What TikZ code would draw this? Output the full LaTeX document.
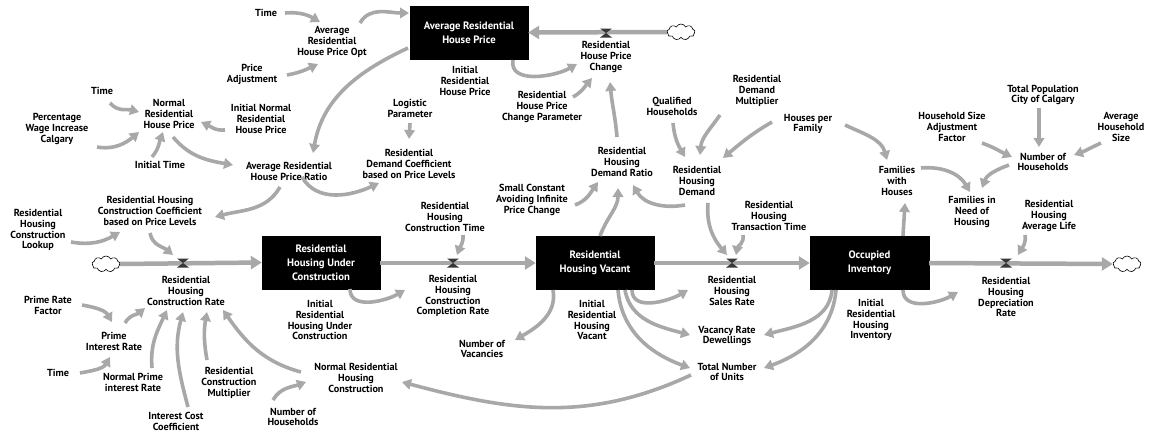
\documentclass[tikz,border=0pt]{standalone}
\usepackage{fontspec}
\setmainfont{PT Sans}
\usetikzlibrary{arrows.meta,shapes.symbols}
\definecolor{linkgray}{RGB}{168,168,168}
\definecolor{valvegray}{RGB}{55,55,55}
\tikzset{
  lbl/.style={align=center,inner sep=1pt,font=\fontsize{10.2}{10.9}\selectfont\bfseries},
  stock/.style={rectangle,fill=black,draw=black,minimum width=118pt,minimum height=53pt,
    inner sep=2pt,text=white,align=center,font=\fontsize{10.7}{14}\selectfont\bfseries},
  link/.style={draw=linkgray,line width=3.6pt,-{Triangle[length=9pt,width=10.5pt]}},
  pipe/.style={draw=linkgray,line width=4.5pt,-{Triangle[length=11pt,width=13pt]}},
  sink/.style={cloud,cloud puffs=9,cloud puff arc=130,aspect=1.8,draw=black,fill=white,
    line width=0.6pt,minimum width=28pt,minimum height=16pt,inner sep=0pt},
  valve/.pic={
    \fill[valvegray] (-6,4.5) -- (6,4.5) -- (0,0) -- cycle;
    \fill[valvegray] (-6,-4.5) -- (6,-4.5) -- (0,0) -- cycle;
  }
}
\begin{document}
\begin{tikzpicture}[x=1pt,y=1pt]
\useasboundingbox (0,0) rectangle (1149,-434);

% ---------- stocks ----------
\node[stock] (sP)  at (469,-32.5)   {Average Residential\\House Price};
\node[stock] (sUC) at (321,-262.5)  {Residential\\Housing Under\\Construction};
\node[stock] (sV)  at (595,-262.5)  {Residential\\Housing Vacant};
\node[stock,minimum width=119pt] (sO) at (869.5,-262.5) {Occupied\\Inventory};

% ---------- sources and sinks ----------
\node[sink] (cP) at (681,-32) {};
\node[sink] (cL) at (106,-264) {};
\node[sink] (cR) at (1127,-264) {};

% ---------- flow valves ----------
\coordinate (vP) at (606,-33);
\coordinate (v1) at (183,-263);
\coordinate (v2) at (453,-263);
\coordinate (v3) at (732,-263);
\coordinate (v4) at (1006,-263);

% ---------- pipes ----------
\draw[pipe] (cP.west) -- (sP.east);
\draw[pipe] (cL.east) -- (sUC.west);
\draw[pipe] ([yshift=-0.5pt]sUC.east) -- ([yshift=-0.5pt]sV.west);
\draw[pipe] ([yshift=-0.5pt]sV.east) -- ([yshift=-0.5pt]sO.west);
\draw[pipe] ([yshift=-0.5pt]sO.east) -- (cR.west);
\foreach \v in {vP,v1,v2,v3,v4} \pic at (\v) {valve};

% ---------- auxiliaries ----------
\node[lbl] (tTimeA) at (266,-13) {Time};
\node[lbl] (pOpt) at (332,-42) {Average\\Residential\\House Price Opt};
\node[lbl] (pAdj) at (252,-74) {Price\\Adjustment};
\node[lbl] (tTimeB) at (102,-91) {Time};
\node[lbl] (nrhp) at (169,-114) {Normal\\Residential\\House Price};
\node[lbl] (inrhp) at (261,-119) {Initial Normal\\Residential\\House Price};
\node[lbl] (pwic) at (57,-129) {Percentage\\Wage Increase\\Calgary};
\node[lbl] (itime) at (160,-165) {Initial Time};
\node[lbl] (ratio) at (289,-171) {Average Residential\\House Price Ratio};
\node[lbl] (logi) at (410,-108) {Logistic\\Parameter};
\node[lbl] (rdc) at (409,-164) {Residential\\Demand Coefficient\\based on Price Levels};
\node[lbl] (irhp) at (465,-81) {Initial\\Residential\\House Price};
\node[lbl] (rhpc) at (606,-57) {Residential\\House Price\\Change};
\node[lbl] (rhpcp) at (542,-107) {Residential\\House Price\\Change Parameter};
\node[lbl] (qh) at (672,-106) {Qualified\\Households};
\node[lbl] (rdm) at (757,-91) {Residential\\Demand\\Multiplier};
\node[lbl] (rhdr) at (622,-162) {Residential\\Housing\\Demand Ratio};
\node[lbl] (rhd) at (697,-181) {Residential\\Housing\\Demand};
\node[lbl] (sc) at (532,-200) {Small Constant\\Avoiding Infinite\\Price Change};
\node[lbl] (hpf) at (808,-124) {Houses per\\Family};
\node[lbl] (hsaf) at (952,-127) {Household Size\\Adjustment\\Factor};
\node[lbl] (tpop) at (1043,-95) {Total Population\\City of Calgary};
\node[lbl] (ahs) at (1121,-127) {Average\\Household\\Size};
\node[lbl] (noh) at (1043,-162) {Number of\\Households};
\node[lbl] (fwh) at (897,-181) {Families\\with\\Houses};
\node[lbl] (fnh) at (972,-212) {Families in\\Need of\\Housing};
\node[lbl] (ral) at (1049,-216) {Residential\\Housing\\Average Life};
\node[lbl] (rtt) at (769,-216) {Residential\\Housing\\Transaction Time};
\node[lbl] (rct) at (445,-217) {Residential\\Housing\\Construction Time};
\node[lbl] (rcc) at (150,-211) {Residential Housing\\Construction Coefficient\\based on Price Levels};
\node[lbl] (rcl) at (38,-230) {Residential\\Housing\\Construction\\Lookup};
\node[lbl] (rcr) at (186,-291) {Residential\\Housing\\Construction Rate};
\node[lbl] (prf) at (48,-305) {Prime Rate\\Factor};
\node[lbl] (pir) at (114,-341) {Prime\\Interest Rate};
\node[lbl] (tTimeC) at (58,-373) {Time};
\node[lbl] (npir) at (133,-382) {Normal Prime\\interest Rate};
\node[lbl] (icc) at (176,-421) {Interest Cost\\Coefficient};
\node[lbl] (rcm) at (229,-383) {Residential\\Construction\\Multiplier};
\node[lbl] (nohB) at (293,-417) {Number of\\Households};
\node[lbl] (nrhc) at (356,-378) {Normal Residential\\Housing\\Construction};
\node[lbl] (iuc) at (320,-320) {Initial\\Residential\\Housing Under\\Construction};
\node[lbl] (rccr) at (453,-296) {Residential\\Housing\\Construction\\Completion Rate};
\node[lbl] (iv) at (592,-320) {Initial\\Residential\\Housing\\Vacant};
\node[lbl] (nov) at (482,-349) {Number of\\Vacancies};
\node[lbl] (rsr) at (732,-291) {Residential\\Housing\\Sales Rate};
\node[lbl] (vrd) at (727,-336) {Vacancy Rate\\Dewellings};
\node[lbl] (tnu) at (727,-372) {Total Number\\of Units};
\node[lbl] (iri) at (871,-320) {Initial\\Residential\\Housing\\Inventory};
\node[lbl] (rdr) at (1006,-297) {Residential\\Housing\\Depreciation\\Rate};

% ---------- information links ----------
% house price sector
\draw[link] ([shift={(19,0)}]tTimeA.center) to[out=5,in=150] ([shift={(-12,20)}]pOpt.center);
\draw[link] ([shift={(35,-1)}]pAdj.center) to[out=10,in=205] ([shift={(-14,-22)}]pOpt.center);
\draw[link] ([shift={(28,19)}]pOpt.center) to[out=60,in=180] ([shift={(-60,19.5)}]sP.center);
\draw[link] ([shift={(-61,-15.5)}]sP.center) to[out=205,in=80] ([shift={(24,18)}]ratio.center);
\draw[link] ([shift={(44,-27.5)}]sP.center) to[out=-100,in=210] ([shift={(-29,-7)}]rhpc.center);
\draw[link] ([shift={(31,10)}]rhpcp.center) to[out=30,in=230] ([shift={(-14,-21)}]rhpc.center);
\draw[link] ([shift={(-5,25)}]rhdr.center) to[out=95,in=-85] ([shift={(4,-25)}]rhpc.center);
\draw[link] ([shift={(4,-23)}]nrhp.center) to[out=-50,in=170] ([shift={(-56,6)}]ratio.center);
\draw[link] ([shift={(8,-12)}]tTimeB.center) to[out=-50,in=165] ([shift={(-30,2)}]nrhp.center);
\draw[link] ([shift={(40,-18)}]pwic.center) to[out=-10,in=220] ([shift={(-30,-18)}]nrhp.center);
\draw[link] ([shift={(-8,8)}]itime.center) to[out=50,in=-110] ([shift={(-6,-18)}]nrhp.center);
\draw[link] ([shift={(-36,-11)}]inrhp.center) to[out=185,in=-25] ([shift={(32,-8)}]nrhp.center);
\draw[link] ([shift={(13,-6)}]ratio.center) to[out=-60,in=205] ([shift={(-30,-19)}]rdc.center);
\draw[link] ([shift={(0,-15)}]logi.center) -- ([shift={(0,25)}]rdc.center);
\draw[link] ([shift={(-9,-16)}]ratio.center) to[out=-120,in=15] ([shift={(65,-6)}]rcc.center);

% construction sector
\draw[link] ([shift={(33,-12)}]rcl.center) to[out=-10,in=210] ([shift={(-30,-21)}]rcc.center);
\draw[link] ([shift={(0,-22)}]rcc.center) to[out=-80,in=140] ([shift={(-10,8)}]v1);
\draw[link] ([shift={(34,0)}]prf.center) to[out=-10,in=120] ([shift={(-2,19)}]pir.center);
\draw[link] ([shift={(22,0)}]tTimeC.center) to[out=10,in=240] ([shift={(-4,-16)}]pir.center);
\draw[link] ([shift={(11,18)}]pir.center) to[out=60,in=220] ([shift={(-41,-17)}]rcr.center);
\draw[link] ([shift={(19,14)}]npir.center) to[out=95,in=-115] ([shift={(-19,-19)}]rcr.center);
\draw[link] ([shift={(12,14)}]icc.center) to[out=105,in=-105] ([shift={(-3,-21)}]rcr.center);
\draw[link] ([shift={(-22,23)}]rcm.center) to[out=100,in=-100] ([shift={(21,-21)}]rcr.center);
\draw[link] ([shift={(-55,6)}]nrhc.center) to[out=165,in=-55] ([shift={(37,-19)}]rcr.center);
\draw[link] ([shift={(-20,17)}]nohB.center) to[out=60,in=200] ([shift={(-50,-4)}]nrhc.center);
\draw[link] ([shift={(-36,-3)}]tnu.center) to[out=-155,in=-15] ([shift={(46,-4)}]nrhc.center);
\draw[link] ([shift={(29,-26.5)}]sUC.center) to[out=-90,in=210] ([shift={(-48,6)}]rccr.center);
\draw[link] ([shift={(18,-18)}]rct.center) to[out=-85,in=70] ([shift={(4,8)}]v2);

% vacant housing and demand
\draw[link] ([shift={(-42,-27.5)}]sV.center) to[out=-80,in=30] ([shift={(33,9)}]nov.center);
\draw[link] ([shift={(5,26.5)}]sV.center) to[out=70,in=-90] ([shift={(-4,-26)}]rhdr.center);
\draw[link] ([shift={(43,-5)}]sc.center) to[out=20,in=235] ([shift={(-24,-20)}]rhdr.center);
\draw[link] ([shift={(-12,-24)}]rhd.center) to[out=190,in=-60] ([shift={(11,-23)}]rhdr.center);
\draw[link] ([shift={(1,-17)}]qh.center) to[out=-85,in=120] ([shift={(-12,24)}]rhd.center);
\draw[link] ([shift={(-37,-24)}]rdm.center) to[out=235,in=85] ([shift={(3,26)}]rhd.center);
\draw[link] ([shift={(-36,2)}]hpf.center) to[out=210,in=40] ([shift={(26,23)}]rhd.center);
\draw[link] ([shift={(37,-1)}]hpf.center) to[out=-25,in=105] ([shift={(-10,21)}]fwh.center);
\draw[link] ([shift={(11,-22)}]rhd.center) to[out=-95,in=130] ([shift={(-5,8)}]v3);
\draw[link] ([shift={(-26,-19)}]rtt.center) to[out=-80,in=80] ([shift={(4,8)}]v3);
\draw[link] ([shift={(37,-27.5)}]sV.center) to[out=-90,in=210] ([shift={(-44,1)}]rsr.center);
\draw[link] ([shift={(30,-27.5)}]sV.center) to[out=-80,in=165] ([shift={(-37,1)}]vrd.center);
\draw[link] ([shift={(23,-27.5)}]sV.center) to[out=-85,in=160] ([shift={(-37,4)}]tnu.center);

% occupied inventory and households
\draw[link] ([shift={(-37.5,-27.5)}]sO.center) to[out=-95,in=15] ([shift={(37,1)}]vrd.center);
\draw[link] ([shift={(-33.5,-27.5)}]sO.center) to[out=-95,in=20] ([shift={(37,4)}]tnu.center);
\draw[link] ([shift={(33.5,26.5)}]sO.center) -- ([shift={(8,-22)}]fwh.center);
\draw[link] ([shift={(24,13)}]fwh.center) to[out=5,in=120] ([shift={(-2,20)}]fnh.center);
\draw[link] ([shift={(-34,-3)}]noh.center) to[out=200,in=70] ([shift={(10,24)}]fnh.center);
\draw[link] ([shift={(30,-16)}]hsaf.center) to[out=-20,in=155] ([shift={(-31,5)}]noh.center);
\draw[link] ([shift={(-4,-13)}]tpop.center) -- ([shift={(-4,15)}]noh.center);
\draw[link] ([shift={(-20,-16)}]ahs.center) to[out=205,in=20] ([shift={(31,7)}]noh.center);
\draw[link] ([shift={(-24,-19)}]ral.center) to[out=-80,in=60] ([shift={(12,8)}]v4);
\draw[link] ([shift={(33.5,-27.5)}]sO.center) to[out=-90,in=210] ([shift={(-48,5)}]rdr.center);
\end{tikzpicture}
\end{document}
